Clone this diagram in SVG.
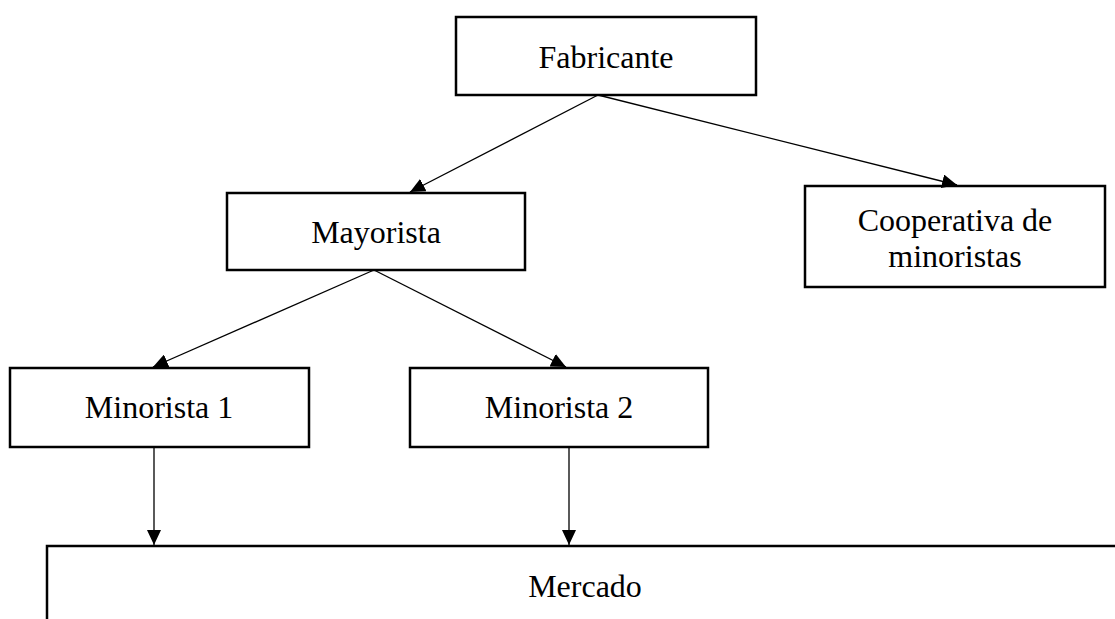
<svg xmlns="http://www.w3.org/2000/svg" width="1115" height="619" viewBox="0 0 1115 619">
<style>
.box{fill:#fff;stroke:#000;stroke-width:2.5}
.lbl{font-family:"Liberation Serif","Times New Roman",serif;font-size:32px;fill:#000;text-anchor:middle}
.edge{stroke:#000;stroke-width:1.3;fill:none;marker-end:url(#ah)}
</style>
<defs>
<marker id="ah" markerUnits="userSpaceOnUse" markerWidth="16" markerHeight="14" refX="15" refY="7" orient="auto">
<path d="M0,0 L15,7 L0,14 Z" fill="#000"/>
</marker>
</defs>
<rect width="1115" height="619" fill="#fff"/>
<g id="node-fabricante">
<rect class="box" x="456" y="17" width="300" height="78"/>
<text class="lbl" x="606" y="68">Fabricante</text>
</g>
<g id="node-mayorista">
<rect class="box" x="227" y="193" width="298" height="77"/>
<text class="lbl" x="376" y="243">Mayorista</text>
</g>
<g id="node-cooperativa">
<rect class="box" x="805" y="186" width="300" height="101"/>
<text class="lbl" x="955" y="231">Cooperativa de</text>
<text class="lbl" x="955" y="267">minoristas</text>
</g>
<g id="node-minorista1">
<rect class="box" x="10" y="368" width="299" height="79"/>
<text class="lbl" x="159" y="418">Minorista 1</text>
</g>
<g id="node-minorista2">
<rect class="box" x="410" y="368" width="298" height="79"/>
<text class="lbl" x="559" y="418">Minorista 2</text>
</g>
<g id="node-mercado">
<rect class="box" x="47" y="546" width="1100" height="100"/>
<text class="lbl" x="585" y="597">Mercado</text>
</g>
<g id="connectors">
<line class="edge" x1="598" y1="95" x2="410" y2="192"/>
<line class="edge" x1="598" y1="95" x2="957" y2="185"/>
<line class="edge" x1="374" y1="270" x2="153" y2="367"/>
<line class="edge" x1="374" y1="270" x2="566" y2="367"/>
<line class="edge" x1="154" y1="447" x2="154" y2="545"/>
<line class="edge" x1="569" y1="447" x2="569" y2="545"/>
</g>
</svg>
